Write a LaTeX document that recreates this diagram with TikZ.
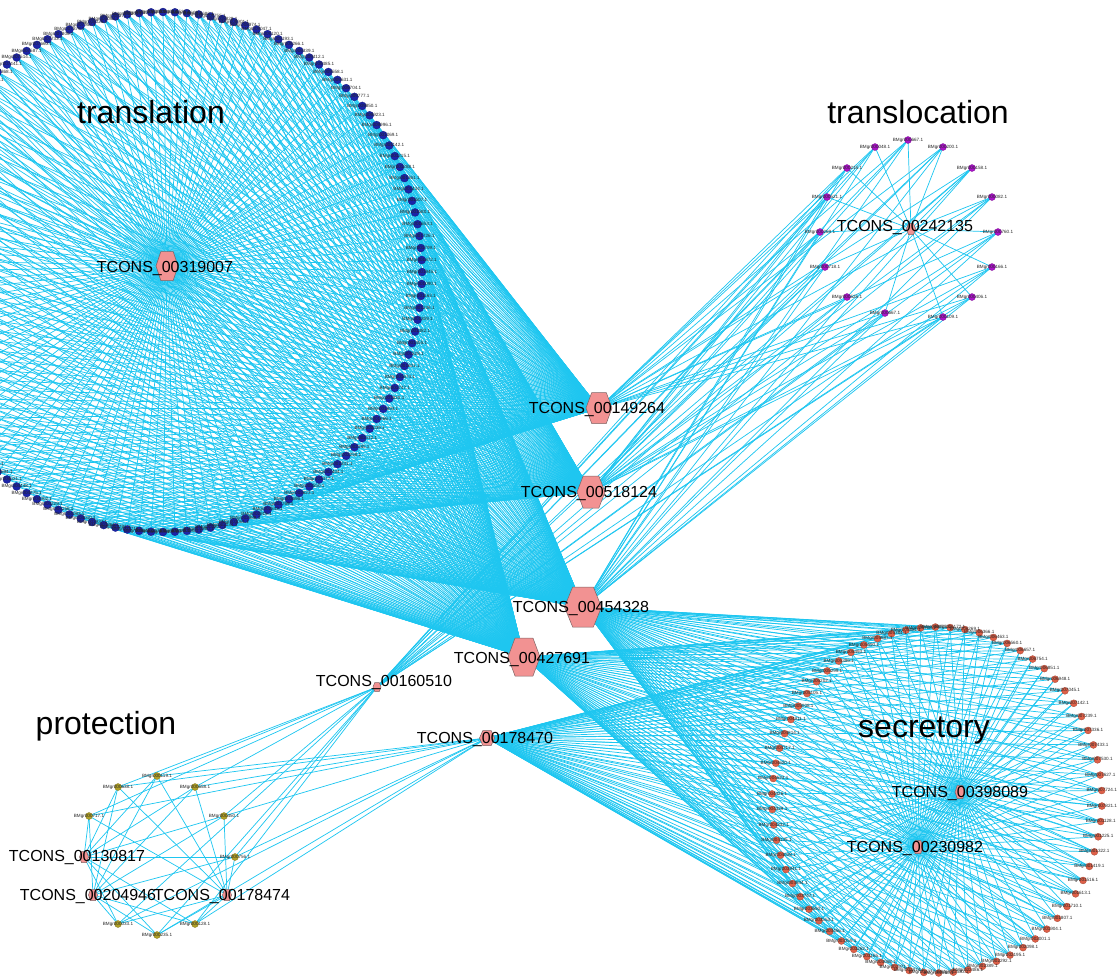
\documentclass[tikz,border=0pt]{standalone}
\usepackage{fontspec}
\setmainfont{Liberation Sans}
\definecolor{edgecol}{RGB}{30,198,240}
\definecolor{hexfill}{RGB}{242,146,146}
\definecolor{hexline}{RGB}{125,100,100}
\definecolor{trcol}{RGB}{28,36,168}
\definecolor{tlcol}{RGB}{170,20,200}
\definecolor{prcol}{RGB}{176,160,40}
\definecolor{sccol}{RGB}{222,96,72}
\pgfdeclarelayer{bg}
\pgfsetlayers{bg,main}
\tikzset{
  edgeline/.style={draw=edgecol, line width=0.72pt},
  dot/.style={circle, inner sep=0pt, minimum size=7pt, draw=#1!75!black, line width=0.3pt, fill=#1},
  smalllab/.style={font=\fontsize{4.6}{5}\selectfont, inner sep=0pt, text=black!85},
  hublabel/.style={font=\fontsize{16}{18}\selectfont, anchor=base, inner sep=0pt},
  titlelab/.style={font=\fontsize{32}{36}\selectfont, anchor=base, inner sep=0pt},
  hexstyle/.style={fill=hexfill, draw=hexline, line width=0.5pt},
}
\newcommand\drawhex[3]{\draw[hexstyle,shift={(#1)}] (-#2/2,0) -- (-0.28*#2,-#3/2) -- (0.28*#2,-#3/2) -- (#2/2,0) -- (0.28*#2,#3/2) -- (-0.28*#2,#3/2) -- cycle;}
\begin{document}
\begin{tikzpicture}[x=1pt,y=-1pt]
\useasboundingbox (0,0) rectangle (1120,978);
\clip (0,0) rectangle (1120,978);
% hub coordinates
\coordinate (h319007) at (167,266);
\coordinate (h149264) at (599,408);
\coordinate (h518124) at (591,492);
\coordinate (h454328) at (583,607);
\coordinate (h427691) at (524,657);
\coordinate (h160510) at (377,687);
\coordinate (h178470) at (487,738);
\coordinate (h242135) at (911,229);
\coordinate (h398089) at (960,792);
\coordinate (h230982) at (918,847);
\coordinate (h130817) at (84,857);
\coordinate (h204946) at (93,895);
\coordinate (h178474) at (227,895);
% translation mRNA nodes
\foreach \i in {1,...,136}{
  \pgfmathsetmacro\ang{\i*(360/136)}
  \node[dot=trcol, minimum size=8pt] (tr\i) at ({163+259*cos(\ang)},{272+260*sin(\ang)}) {};
}
% secretory mRNA nodes
\foreach \i in {1,...,70}{
  \pgfmathsetmacro\ang{\i*(360/70)+2}
  \node[dot=sccol] (sc\i) at ({937+165*cos(\ang)},{800+173*sin(\ang)}) {};
}
% translocation mRNA nodes
\foreach \x/\y [count=\i] in {908/140,875/147,943/147,847/168,972/168,827/197,992/197,820/232,998/232,825/267,992/267,847/297,972/297,885/313,943/317}
  \node[dot=tlcol] (tl\i) at (\x,\y) {};
% protection mRNA nodes
\foreach \x/\y [count=\i] in {157/776,118/787,195/787,89/816,224/816,235/857,118/924,195/924,157/935}
  \node[dot=prcol] (pr\i) at (\x,\y) {};
% edges
\begin{pgfonlayer}{bg}
\foreach \i in {1,...,136}
  \foreach \h in {h319007,h149264,h518124,h454328,h427691}
    \draw[edgeline] (tr\i.center) -- (\h);
\foreach \i in {1,...,70}
  \foreach \h in {h398089,h230982,h454328,h427691,h178470}
    \draw[edgeline] (sc\i.center) -- (\h);
\foreach \i in {1,...,15}
  \foreach \h in {h242135,h149264,h518124,h454328,h160510}
    \draw[edgeline] (tl\i.center) -- (\h);
\foreach \i in {1,...,9}
  \foreach \h in {h130817,h204946,h178474,h160510,h178470}
    \draw[edgeline] (pr\i.center) -- (\h);
\end{pgfonlayer}
% small labels
\foreach \i in {1,...,136}{
  \pgfmathtruncatemacro\d{mod(\i*73+17,9000)+1000}
  \node[smalllab] (trl\i) at (tr\i) {BMgr00\d.1};
}
\foreach \i in {1,...,70}{
  \pgfmathtruncatemacro\d{mod(\i*97+31,9000)+1000}
  \node[smalllab] (scl\i) at (sc\i) {BMgr00\d.1};
}
\foreach \s [count=\i] in {667,048,200,215,158,521,082,269,760,718,166,525,406,667,109}
  \node[smalllab] (tll\i) at (tl\i) {BMgr000\s.1};
\foreach \s [count=\i] in {119,638,658,717,450,756,033,128,235}
  \node[smalllab] (prl\i) at (pr\i) {BMgr000\s.1};
% hub hexagons
\drawhex{h319007}{22}{29}
\drawhex{h149264}{26}{31}
\drawhex{h518124}{28}{32}
\drawhex{h454328}{37}{40}
\drawhex{h427691}{32}{38}
\drawhex{h160510}{8}{9}
\drawhex{h178470}{15}{15}
\drawhex{h242135}{9}{11}
\drawhex{h398089}{10}{13}
\drawhex{h230982}{10}{13}
\drawhex{h130817}{9}{11}
\drawhex{h204946}{9}{11}
\drawhex{h178474}{9}{11}
% hub labels
\node[hublabel] (l319007) at (165,272) {TCONS\_00319007};
\node[hublabel] (l149264) at (597,413) {TCONS\_00149264};
\node[hublabel] (l518124) at (589,497) {TCONS\_00518124};
\node[hublabel] (l454328) at (581,612) {TCONS\_00454328};
\node[hublabel] (l427691) at (522,663) {TCONS\_00427691};
\node[hublabel] (l160510) at (384,686) {TCONS\_00160510};
\node[hublabel] (l178470) at (485,743) {TCONS\_00178470};
\node[hublabel] (l242135) at (905,231) {TCONS\_00242135};
\node[hublabel] (l398089) at (960,797) {TCONS\_00398089};
\node[hublabel] (l230982) at (915,852) {TCONS\_00230982};
\node[hublabel] (l130817) at (77,861) {TCONS\_00130817};
\node[hublabel] (l204946) at (88,900) {TCONS\_00204946};
\node[hublabel] (l178474) at (222,900) {TCONS\_00178474};
% titles
\node[titlelab] (ttrans) at (151,123) {translation};
\node[titlelab] (ttransloc) at (918,123) {translocation};
\node[titlelab] (tprot) at (106,734) {protection};
\node[titlelab] (tsecr) at (924,737) {secretory};
\end{tikzpicture}
\end{document}
